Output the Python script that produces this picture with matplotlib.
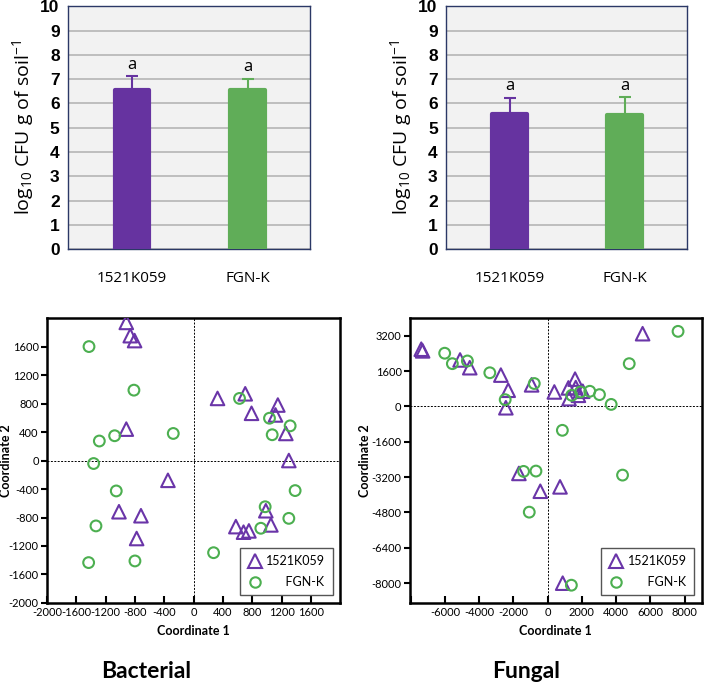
import matplotlib
matplotlib.use("Agg")
import matplotlib.pyplot as plt
from matplotlib.lines import Line2D

# bar charts: log10 CFU per g soil
strains = ["1521K059", "FGN-K"]
bact_cfu = [6.57, 6.54]
bact_err = [0.55, 0.48]
fung_cfu = [5.56, 5.51]
fung_err = [0.67, 0.75]
sig_letters = ["a", "a"]

# PCoA bacterial
bact_tri_x = [-918, -864, -805, -918, 327, 705, 791, 1150, 1118, 1259, 1300,
              -350, -1018, -718, -777, 577, 682, 755, 986, 1055]
bact_tri_y = [1939, 1753, 1684, 441, 872, 937, 663, 779, 640, 380, 0,
              -278, -719, -775, -1095, -928, -1006, -988, -705, -904]
bact_cir_x = [-1427, -814, -1286, -1077, -277, -1364, -1055, -1332, -1432, -800,
              627, 1036, 1073, 1318, 1386, 977, 1300, 918, 273]
bact_cir_y = [1600, 988, 274, 348, 380, -42, -427, -918, -1433, -1410,
              872, 594, 362, 487, -422, -649, -812, -951, -1294]

# PCoA fungal
fung_tri_x = [-7387, -7309, -5120, -4553, -2736, -2306, -2443, -938, 391, 1212,
              1602, 1642, 1251, 1798, 2052, -1681, -430, 723, 879, 5550]
fung_tri_y = [2591, 2515, 2104, 1753, 1418, 732, -61, 976, 655, 838,
              1235, 854, 351, 503, 686, -3034, -3841, -3643, -8003, 3293]
fung_cir_x = [-6019, -5570, -4690, -3381, -2482, -782, 1407, 1915, 2462, 3029,
              3713, 4768, 7622, 860, -1407, -684, -1075, 4377, 1387]
fung_cir_y = [2409, 1936, 2058, 1524, 305, 1037, 503, 655, 686, 534,
              91, 1936, 3399, -1082, -2942, -2927, -4787, -3110, -8095]

bx_ticks = [-2000, -1600, -1200, -800, -400, 0, 400, 800, 1200, 1600]
fx_ticks = [-8000, -6000, -4000, -2000, 0, 2000, 4000, 6000, 8000]
fx_labels = ["", "-6000", "-4000", "-2000", "0", "2000", "4000", "6000", "8000"]
fy_ticks = [-8000, -6400, -4800, -3200, -1600, 0, 1600, 3200]

bar_colors = ["#6633a0", "#60ad58"]
purple = "#6a35a8"
green = "#4caf50"
navy = "#2b3866"

plt.rcParams["mathtext.default"] = "regular"
plt.rcParams["axes.unicode_minus"] = False

fig = plt.figure(figsize=(7.08, 7.0), dpi=100)


def bar_panel(rect, vals, errs):
    ax = fig.add_axes(rect)
    ax.set_facecolor("#f2f2f2")
    xs = [0, 1]
    ax.bar(xs, vals, width=0.30, color=bar_colors, edgecolor=bar_colors,
           linewidth=3, joinstyle="round", zorder=3)
    for i in xs:
        ax.errorbar(xs[i], vals[i], yerr=[[0], [errs[i]]], fmt="none",
                    ecolor=bar_colors[i], elinewidth=1.5, capsize=4,
                    capthick=1.5, zorder=4)
        ax.text(xs[i], vals[i] + errs[i] + 0.15, sig_letters[i], ha="center",
                va="bottom", fontsize=12, family="Open Sans")
    ax.set_xlim(-0.553, 1.54)
    ax.set_ylim(0, 10)
    ax.set_yticks(range(11))
    ax.yaxis.grid(True, color="#b5b5b5", linewidth=1.2, zorder=0)
    ax.set_axisbelow(True)
    ax.set_xticks(xs)
    ax.set_xticklabels(strains, family="Open Sans", fontsize=11)
    ax.tick_params(axis="x", length=0, pad=16)
    ax.tick_params(axis="y", length=0, pad=6)
    for lab in ax.get_yticklabels():
        lab.set_fontweight("bold")
        lab.set_fontsize(12.5)
        lab.set_family("Liberation Sans")
    for sp in ax.spines.values():
        sp.set_color(navy)
        sp.set_linewidth(1.0)
    ax.set_ylabel("log$_{10}$ CFU g of soil$^{-1}$", family="Open Sans",
                  fontsize=14, labelpad=3)
    return ax


bar_panel([0.096, 0.644, 0.342, 0.347], bact_cfu, bact_err)
bar_panel([0.630, 0.644, 0.340, 0.347], fung_cfu, fung_err)


def pcoa_panel(rect, tx, ty, cx, cy, xlim, ylim, xticks, xlabels, yticks, ylab_x):
    ax = fig.add_axes(rect)
    ax.axhline(0, color="black", linestyle=(0, (2, 1.5)), linewidth=0.7, zorder=1)
    ax.axvline(0, color="black", linestyle=(0, (2, 1.5)), linewidth=0.7, zorder=1)
    ax.scatter(tx, ty, marker="^", s=95, facecolors="none", edgecolors=purple,
               linewidths=1.5, zorder=3)
    ax.scatter(cx, cy, marker="o", s=60, facecolors="none", edgecolors=green,
               linewidths=1.5, zorder=3)
    ax.set_xlim(*xlim)
    ax.set_ylim(*ylim)
    ax.set_xticks(xticks)
    ax.set_xticklabels(xlabels)
    ax.set_yticks(yticks)
    ax.tick_params(axis="x", direction="in", length=5, width=1.5, pad=3,
                   labelsize=8)
    ax.tick_params(axis="y", direction="out", length=4, width=1.5, pad=2,
                   labelsize=8)
    for lab in ax.get_xticklabels() + ax.get_yticklabels():
        lab.set_family("Lato")
    for sp in ax.spines.values():
        sp.set_linewidth(1.8)
    ax.set_xlabel("Coordinate 1", family="Lato", fontweight="bold", fontsize=9,
                  labelpad=5)
    ax.set_ylabel("Coordinate 2", family="Lato", fontweight="bold", fontsize=9)
    ax.yaxis.set_label_coords(ylab_x, 0.5)
    handles = [Line2D([], [], marker="^", linestyle="none", markersize=10,
                      markerfacecolor="none", markeredgecolor=purple,
                      markeredgewidth=1.5),
               Line2D([], [], marker="o", linestyle="none", markersize=7.5,
                      markerfacecolor="none", markeredgecolor=green,
                      markeredgewidth=1.5)]
    leg = ax.legend(handles, ["1521K059", "      FGN-K"], loc="lower right",
                    fancybox=False, edgecolor="#555555", framealpha=1,
                    prop={"family": "Lato", "size": 9}, borderaxespad=0.6,
                    handletextpad=0.3, handlelength=1.2, labelspacing=0.7,
                    borderpad=0.6)
    leg.get_frame().set_linewidth(1.0)
    return ax


pcoa_panel([0.0664, 0.1386, 0.414, 0.407], bact_tri_x, bact_tri_y,
           bact_cir_x, bact_cir_y, (-2000, 2000), (-2000, 2000),
           bx_ticks, [str(t) for t in bx_ticks], bx_ticks, -0.12)
pcoa_panel([0.579, 0.1386, 0.412, 0.407], fung_tri_x, fung_tri_y,
           fung_cir_x, fung_cir_y, (-8050, 9000), (-8900, 4000),
           fx_ticks, fx_labels, fy_ticks, -0.135)

fig.text(0.206, 0.04, "Bacterial", ha="center", va="center", family="Lato",
         fontweight="bold", fontsize=16.5)
fig.text(0.743, 0.04, "Fungal", ha="center", va="center", family="Lato",
         fontweight="bold", fontsize=16.5)

fig.savefig("out.png", dpi=100)
